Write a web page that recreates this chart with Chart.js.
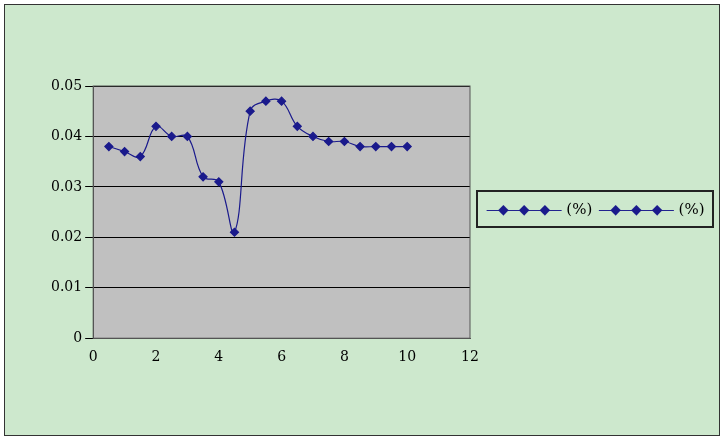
<!DOCTYPE html>
<html><head><meta charset="utf-8">
<script src="https://cdn.jsdelivr.net/npm/chart.js@4"></script>
<style>
body{margin:0;background:#fff}
#wrap{position:absolute;left:4px;top:4px;width:714px;height:430px;background:#cde8cd;border:1px solid #333}
#legend{position:absolute;left:476px;top:190px;width:238px;height:38px;border:2px solid #222;box-sizing:border-box;font:15px "DejaVu Serif";color:#000;display:flex;align-items:center;padding-left:8px;gap:6px}
.ln{color:#1a1a8c;font-size:14px;letter-spacing:-2px}
</style></head><body>
<div id="wrap"><canvas id="c" width="714" height="430"></canvas></div>
<div id="legend"><span class="ln">—◆—◆—◆—</span><span>(%)</span><span class="ln">—◆—◆—◆—</span><span>(%)</span></div>
<script>
const xs = [0.5,1,1.5,2,2.5,3,3.5,4,4.5,5,5.5,6,6.5,7,7.5,8,8.5,9,9.5,10];
const ys = [0.038,0.037,0.036,0.042,0.040,0.040,0.032,0.031,0.021,0.045,0.047,0.047,0.042,0.040,0.039,0.039,0.038,0.038,0.038,0.038];

const plotBg = {
  id:"plotBg",
  beforeDraw(c){const a=c.chartArea,x=c.ctx;x.save();x.fillStyle="#c0c0c0";x.fillRect(a.left,a.top,a.width,a.height);x.restore();},
  afterDraw(c){const a=c.chartArea,x=c.ctx;x.save();x.strokeStyle="#555";x.lineWidth=1;x.strokeRect(a.left,a.top,a.width,a.height);x.restore();}
};

new Chart(document.getElementById("c"), {
  type: "scatter",
  data: { datasets: [{
    data: xs.map((x,i)=>({x, y: ys[i]})),
    showLine: true, tension: 0.4,
    borderColor: "#1a1a8c", borderWidth: 1.2,
    backgroundColor: "#1a1a8c", pointStyle: "rectRot", pointRadius: 4
  }]},
  options: {
    responsive:false, animation:false,
    layout:{padding:{left:43,top:81,right:249,bottom:66}},
    plugins:{legend:{display:false},tooltip:{enabled:false}},
    scales:{
      x:{min:0,max:12,ticks:{stepSize:2,color:"#000",font:{family:"DejaVu Serif",size:14}},grid:{display:false},border:{color:"#555"}},
      y:{min:0,max:0.05,ticks:{stepSize:0.01,color:"#000",font:{family:"DejaVu Serif",size:14},callback:v=>v===0?"0":v.toFixed(2)},grid:{color:"#000"},border:{color:"#555"}}
    }
  },
  plugins:[plotBg]
});
</script>
</body></html>
